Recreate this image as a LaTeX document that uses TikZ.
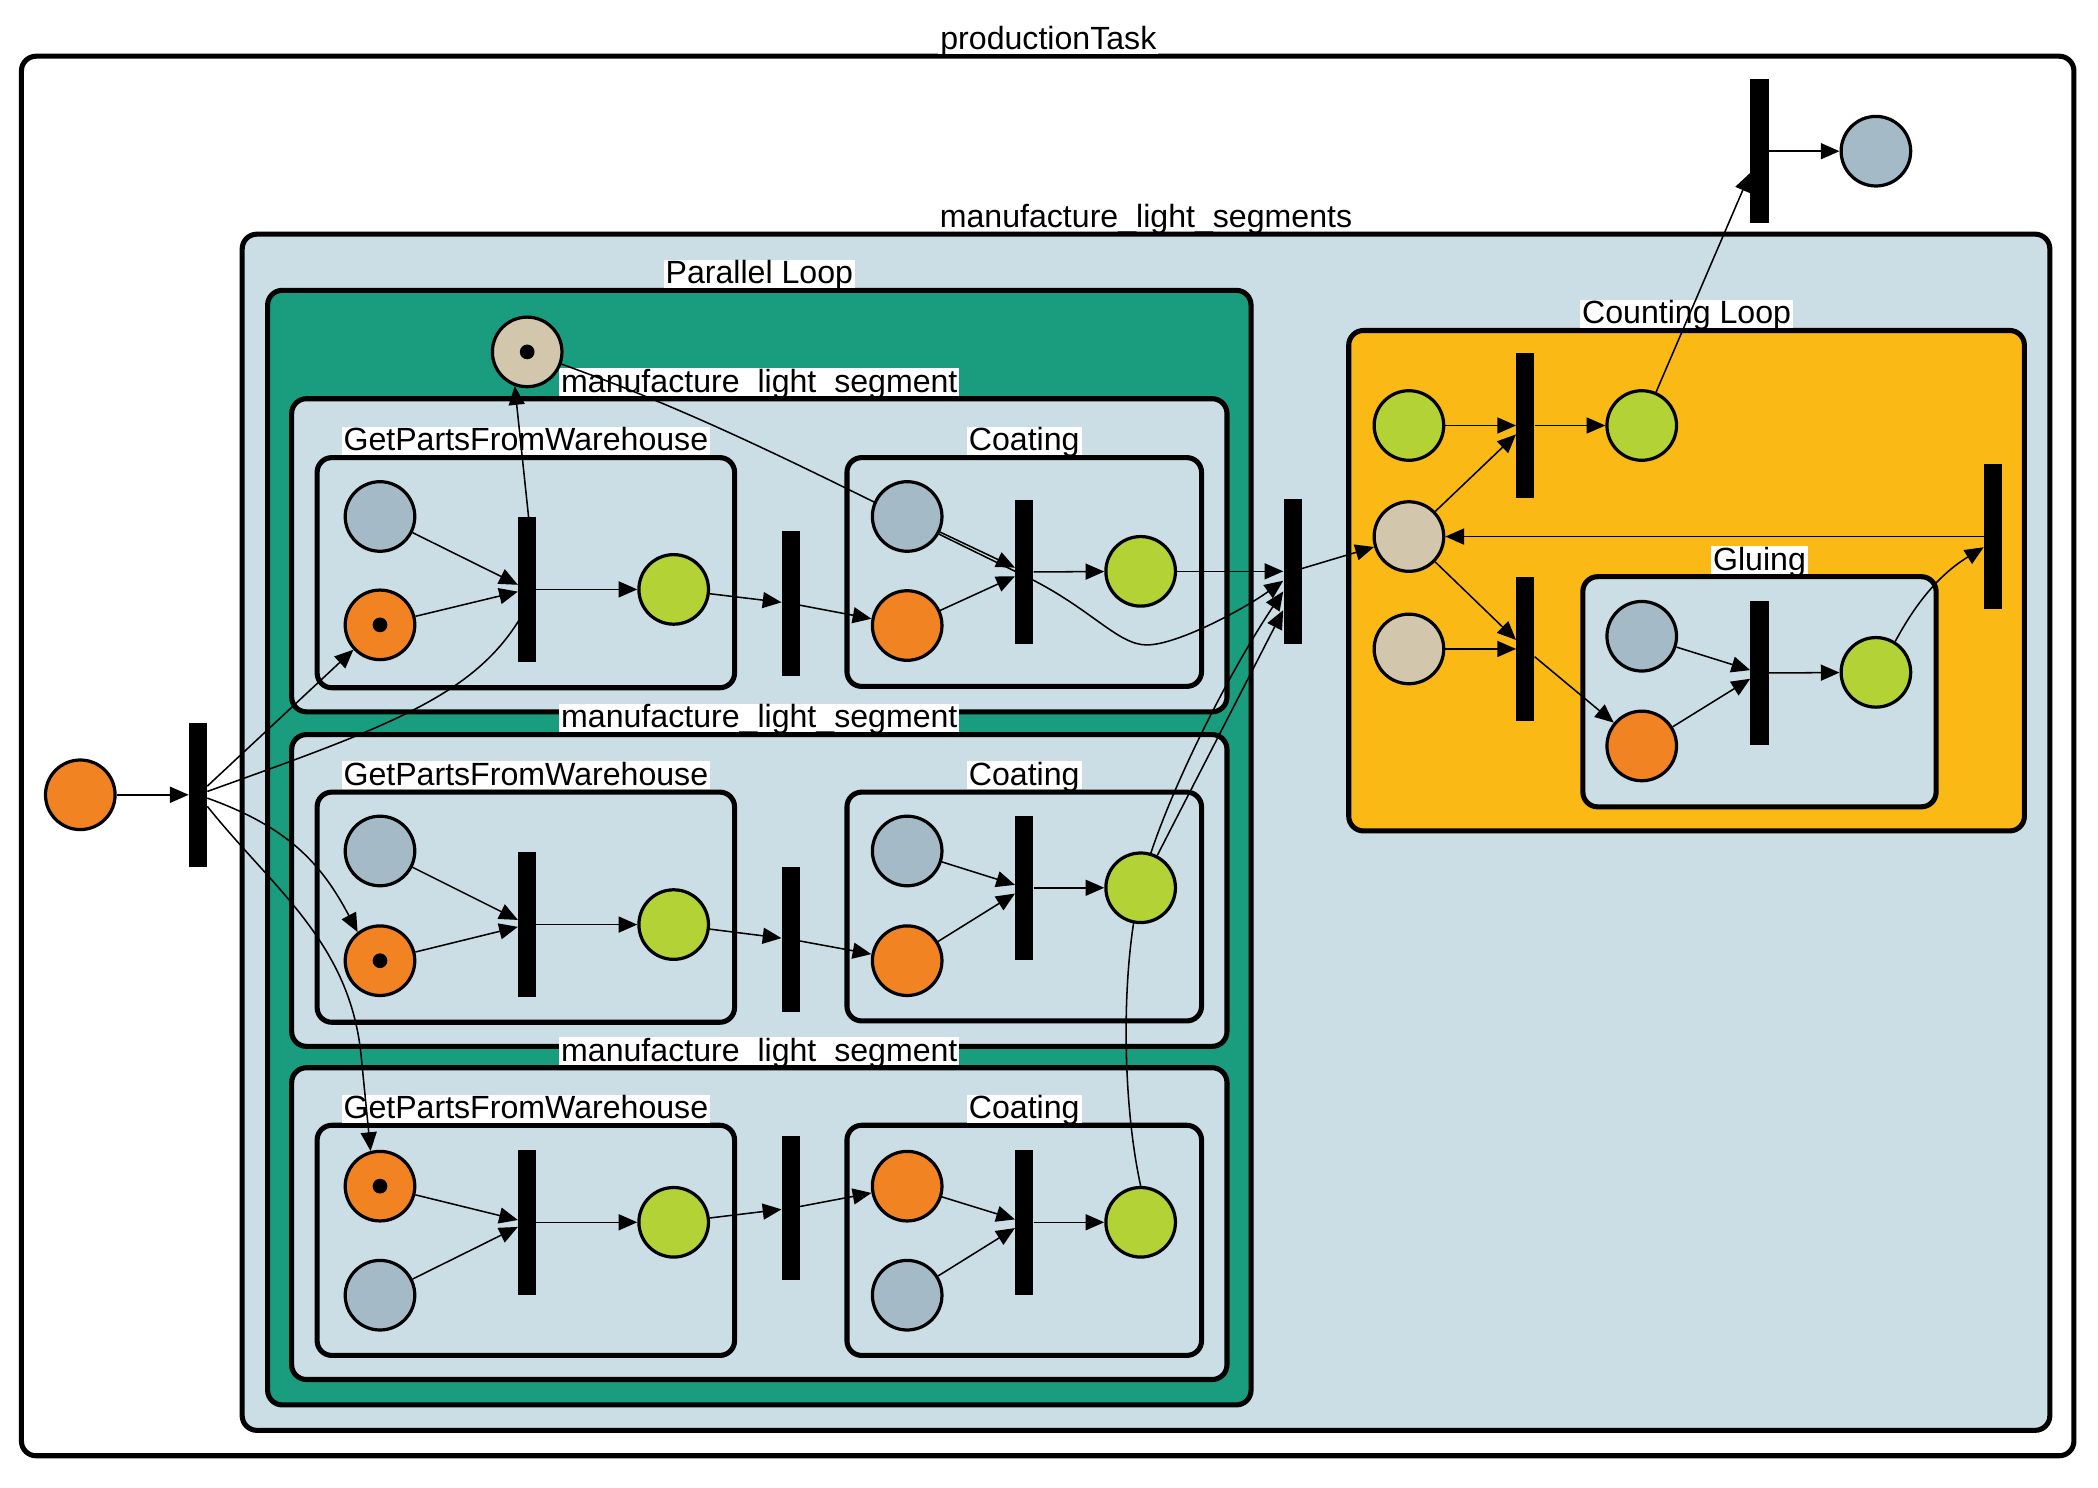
\documentclass[tikz,border=0pt]{standalone}
\usepackage{fontspec}
\setmainfont{Liberation Sans}
\usetikzlibrary{arrows.meta}
\pgfdeclarelayer{bg}
\pgfdeclarelayer{edges}
\pgfsetlayers{bg,edges,main}
\definecolor{boxblue}{RGB}{203,222,229}
\definecolor{pteal}{RGB}{26,156,126}
\definecolor{cyellow}{RGB}{251,185,22}
\definecolor{pgray}{RGB}{165,186,199}
\definecolor{porange}{RGB}{242,131,34}
\definecolor{pgreen}{RGB}{178,210,53}
\definecolor{pbeige}{RGB}{210,199,173}
\begin{document}
\begin{tikzpicture}[x=1pt,y=1pt,
  font=\fontsize{24}{28}\selectfont,
  box/.style={draw=black, line width=3.8pt, rounded corners=11pt},
  boxlabel/.style={anchor=base, fill=white, inner xsep=1.5pt, inner ysep=0pt, text height=18pt, text depth=3pt},
  place/.style={circle, draw=black, line width=2.4pt, minimum size=52pt, inner sep=0pt},
  tokplace/.style={place, path picture={\fill[black] (path picture bounding box.center) circle (5.5pt);}},
  bar/.style={rectangle, fill=black, minimum width=13.5pt, minimum height=108pt, inner sep=0pt},
  flow/.style={line width=1.15pt, -{Triangle[length=14pt,width=12pt]}}
]
\useasboundingbox (0,0) rectangle (1568,-1111.4);
\begin{pgfonlayer}{bg}
\fill[white] (0,0) rectangle (1568,-1111.4);
% productionTask
\draw[box, fill=white] (16,-42) rectangle (1550,-1088);
\node[boxlabel] (lpt) at (783.5,-37) {productionTask};
% manufacture_light_segments
\draw[box, fill=boxblue] (181,-175) rectangle (1532,-1069);
\node[boxlabel] (lmls) at (856.5,-170) {manufacture\_light\_segments};
% Parallel Loop
\draw[box, fill=pteal] (200,-217) rectangle (935,-1050);
\node[boxlabel] (lpl) at (567.5,-212) {Parallel Loop};
% segments
\draw[box, fill=boxblue] (218,-298) rectangle (917,-532);
\node[boxlabel] (ls1) at (567.5,-293) {manufacture\_light\_segment};
\draw[box, fill=boxblue] (218,-549) rectangle (917,-782);
\node[boxlabel] (ls2) at (567.5,-544) {manufacture\_light\_segment};
\draw[box, fill=boxblue] (218,-798) rectangle (917,-1031);
\node[boxlabel] (ls3) at (567.5,-793) {manufacture\_light\_segment};
% GetPartsFromWarehouse boxes
\draw[box, fill=boxblue] (237,-342) rectangle (549,-514);
\node[boxlabel] (lg1) at (393,-337) {GetPartsFromWarehouse};
\draw[box, fill=boxblue] (237,-592) rectangle (549,-764);
\node[boxlabel] (lg2) at (393,-587) {GetPartsFromWarehouse};
\draw[box, fill=boxblue] (237,-841) rectangle (549,-1013);
\node[boxlabel] (lg3) at (393,-836) {GetPartsFromWarehouse};
% Coating boxes
\draw[box, fill=boxblue] (633,-342) rectangle (898,-513);
\node[boxlabel] (lc1) at (765.5,-337) {Coating};
\draw[box, fill=boxblue] (633,-592) rectangle (898,-763);
\node[boxlabel] (lc2) at (765.5,-587) {Coating};
\draw[box, fill=boxblue] (633,-841) rectangle (898,-1013);
\node[boxlabel] (lc3) at (765.5,-836) {Coating};
% Counting Loop
\draw[box, fill=cyellow] (1008,-247) rectangle (1513,-621);
\node[boxlabel] (lcl) at (1260.5,-242) {Counting Loop};
% Gluing
\draw[box, fill=boxblue] (1183,-431) rectangle (1447,-603);
\node[boxlabel] (lgl) at (1315,-426) {Gluing};
\end{pgfonlayer}

% start / end
\node[place, fill=porange] (s0) at (60,-594) {};
\node[bar] (t0) at (148,-594) {};
\node[bar] (te) at (1315,-113) {};
\node[place, fill=pgray] (ep) at (1402,-113) {};
\node[tokplace, fill=pbeige] (pb) at (394,-263) {};

% segment 1
\node[place, fill=pgray] (g1a) at (284,-386) {};
\node[tokplace, fill=porange] (g1b) at (284,-467) {};
\node[bar] (g1t) at (394,-440.5) {};
\node[place, fill=pgreen] (g1c) at (503.5,-440.5) {};
\node[bar] (m1) at (591,-451) {};
\node[place, fill=pgray] (c1a) at (678,-386) {};
\node[place, fill=porange] (c1b) at (678,-467.5) {};
\node[bar] (c1t) at (765.5,-427.5) {};
\node[place, fill=pgreen] (c1c) at (852.5,-427) {};
% segment 2
\node[place, fill=pgray] (g2a) at (284,-636) {};
\node[tokplace, fill=porange] (g2b) at (284,-718) {};
\node[bar] (g2t) at (394,-691) {};
\node[place, fill=pgreen] (g2c) at (503.5,-691) {};
\node[bar] (m2) at (591,-702) {};
\node[place, fill=pgray] (c2a) at (678,-636) {};
\node[place, fill=porange] (c2b) at (678,-718) {};
\node[bar] (c2t) at (765.5,-663.5) {};
\node[place, fill=pgreen] (c2c) at (852.5,-663.5) {};
% segment 3
\node[tokplace, fill=porange] (g3b) at (284,-886.5) {};
\node[place, fill=pgray] (g3a) at (284,-968) {};
\node[bar] (g3t) at (394,-913.5) {};
\node[place, fill=pgreen] (g3c) at (503.5,-913.5) {};
\node[bar] (m3) at (591,-903) {};
\node[place, fill=porange] (c3b) at (678,-886.5) {};
\node[place, fill=pgray] (c3a) at (678,-968) {};
\node[bar] (c3t) at (765.5,-913.5) {};
\node[place, fill=pgreen] (c3c) at (852.5,-913.5) {};
% join
\node[bar] (jb) at (966,-427) {};
% counting loop
\node[place, fill=pgreen] (cg1) at (1053,-318) {};
\node[bar] (ct1) at (1140,-318) {};
\node[place, fill=pgreen] (cg2) at (1227,-318) {};
\node[place, fill=pbeige] (cb1) at (1053,-401) {};
\node[place, fill=pbeige] (cb2) at (1053,-485) {};
\node[bar] (ct2) at (1140,-485) {};
\node[bar] (rb) at (1489.5,-401) {};
% gluing
\node[place, fill=pgray] (gla) at (1227,-475.5) {};
\node[place, fill=porange] (glb) at (1227,-557.5) {};
\node[bar] (glt) at (1315,-503) {};
\node[place, fill=pgreen] (glc) at (1402,-502.5) {};

\begin{pgfonlayer}{edges}
\draw[flow] (s0) -- (t0);
\draw[flow] (t0) -- (g1b);
\draw[flow] (t0) .. controls (290,-543) and (355,-520) .. (390,-460) -- (395,-386) -- (pb.250);
\draw[flow] (t0) .. controls (215,-618) and (240,-645) .. (g2b.128);
\draw[flow] (t0) .. controls (205,-665) and (262,-705) .. (270,-790) -- (g3b.105);
\foreach \i in {1,2,3}{
  \draw[flow] (g\i a) -- (g\i t);
  \draw[flow] (g\i b) -- (g\i t);
  \draw[flow] (g\i t) -- (g\i c);
  \draw[flow] (g\i c) -- (m\i);
  \draw[flow] (m\i) -- (c\i b);
  \draw[flow] (c\i a) -- (c\i t);
  \draw[flow] (c\i b) -- (c\i t);
  \draw[flow] (c\i t) -- (c\i c);
}
\draw[flow] (c1c) -- (jb);
\draw[flow] (pb) .. controls (540,-315) and (640,-370) .. (765,-430)
  .. controls (815,-454) and (835,-482) .. (857,-482)
  .. controls (880,-482) and (930,-455) .. ([yshift=-7pt]jb.west);
\draw[flow] (c2c) -- ([yshift=-29pt]jb.west);
\draw[flow] (c3c.north) .. controls (838,-820) and (838,-720) .. (852.5,-663.5)
  .. controls (868,-600) and (920,-500) .. ([yshift=-15pt]jb.west);
\draw[flow] (jb) -- (cb1);
\draw[flow] (cg1) -- (ct1);
\draw[flow] (ct1) -- (cg2);
\draw[flow] (cb1) -- (ct1);
\draw[flow] (cb1) -- (ct2);
\draw[flow] (cb2) -- (ct2);
\draw[flow] (ct2) -- (glb);
\draw[flow] (gla) -- (glt);
\draw[flow] (glb) -- (glt);
\draw[flow] (glt) -- (glc);
\draw[flow] (glc.58) .. controls (1428,-458) and (1445,-432) .. ([yshift=-8pt]rb.west);
\draw[flow] (rb) -- (cb1);
\draw[flow] (cg2) -- (te);
\draw[flow] (te) -- (ep);
\end{pgfonlayer}
\end{tikzpicture}
\end{document}
